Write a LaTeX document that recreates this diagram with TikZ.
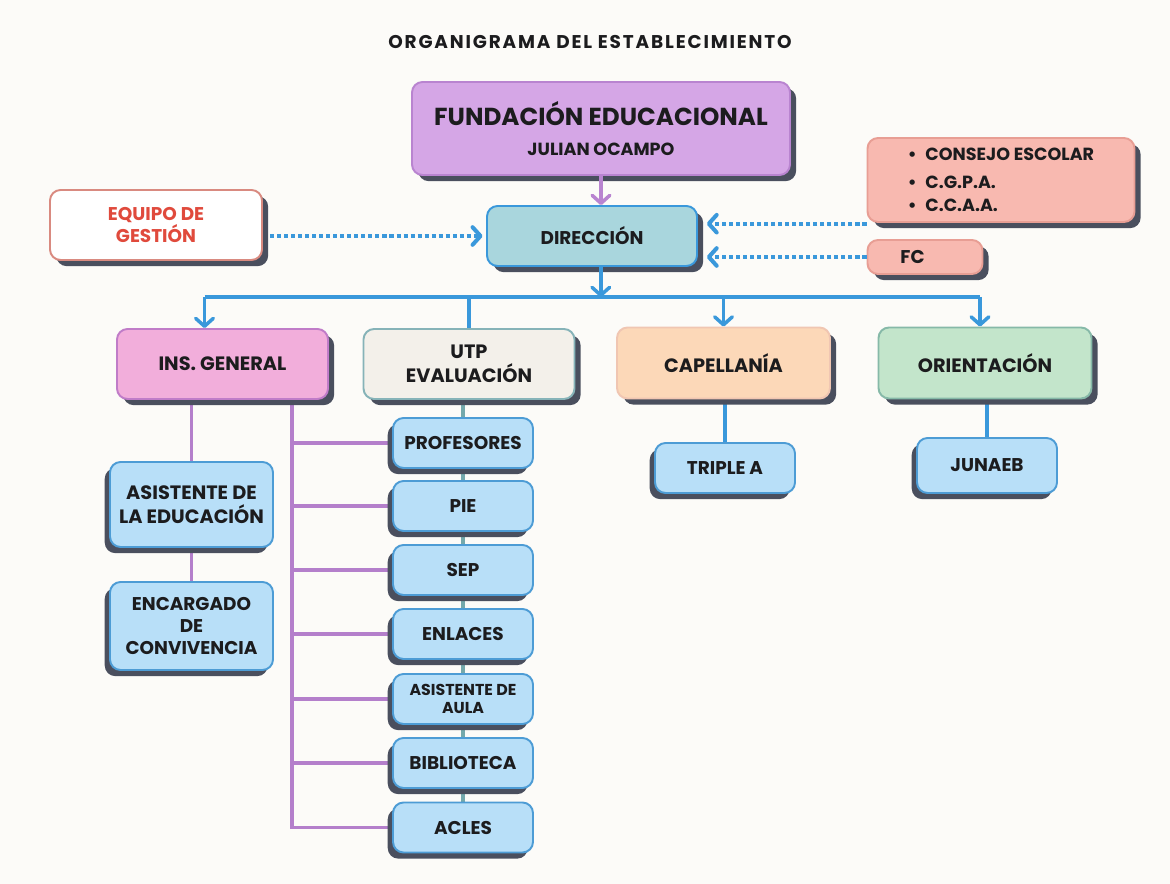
\documentclass[tikz,border=0pt]{standalone}
\usepackage{fontspec}
\setmainfont{Poppins}
\usetikzlibrary{arrows.meta, shadows, backgrounds}
\definecolor{bgclr}{HTML}{FCFBF8}
\definecolor{txtclr}{HTML}{1C1C1E}
\definecolor{shadowclr}{HTML}{4A4F5E}
\definecolor{arrclr}{HTML}{3A98DB}
\definecolor{fundfill}{HTML}{D5A6E6}
\definecolor{fundline}{HTML}{B984D0}
\definecolor{dirfill}{HTML}{A9D6DD}
\definecolor{eqline}{HTML}{D98A80}
\definecolor{eqtxt}{HTML}{E04A3C}
\definecolor{rosefill}{HTML}{F8B9B0}
\definecolor{roseline}{HTML}{E89E94}
\definecolor{insfill}{HTML}{F2AEDB}
\definecolor{insline}{HTML}{C07CC8}
\definecolor{utpfill}{HTML}{F3F0EA}
\definecolor{utpline}{HTML}{86B3B8}
\definecolor{capfill}{HTML}{FCD8B8}
\definecolor{capline}{HTML}{F0C6B2}
\definecolor{orifill}{HTML}{C3E5CB}
\definecolor{oriline}{HTML}{86B9A8}
\definecolor{skyfill}{HTML}{B8DFF8}
\definecolor{skyline}{HTML}{4D9CD5}
\definecolor{purpclr}{HTML}{B47FCB}
\definecolor{tealclr}{HTML}{74A9AC}
\tikzset{
  orgbox/.style={
    rectangle, rounded corners=6pt, line width=1.1pt,
    text=txtclr, font=\bfseries\fontsize{11}{13.5}\selectfont,
    align=center, inner sep=2pt
  },
  topbox/.style={
    orgbox, general shadow={fill=shadowclr, shadow xshift=3.5pt, shadow yshift=-3.5pt}
  },
  subbox/.style={
    orgbox, fill=skyfill, draw=skyline,
    font=\bfseries\fontsize{10.5}{12}\selectfont,
    minimum width=2.8cm, minimum height=1cm,
    general shadow={fill=shadowclr, shadow xshift=-3pt, shadow yshift=-3.5pt}
  },
  arr/.style={-{Straight Barb[length=4.5pt, width=10pt, round]}, line width=2pt, arrclr},
  dotarr/.style={-{Straight Barb[length=4.5pt, width=10pt, round]}, line width=2.3pt, arrclr,
    dash pattern=on 2.3pt off 1.7pt},
  wire/.style={line width=2pt},
}
\begin{document}
\begin{tikzpicture}

\useasboundingbox (0,0) rectangle (23.4,-17.68);

% --- Title ---
\node[text=txtclr, font=\bfseries\fontsize{10.5}{12}\selectfont\addfontfeature{LetterSpace=10}] (title) at (11.8,-0.84) {ORGANIGRAMA DEL ESTABLECIMIENTO};

% --- Top ---
\node[topbox, fill=fundfill, draw=fundline, minimum width=7.56cm, minimum height=1.86cm] (fund) at (12.02,-2.57)
  {{\fontsize{14}{17}\selectfont FUNDACIÓN EDUCACIONAL}\\[4pt]\fontsize{10}{12}\selectfont JULIAN OCAMPO};
\node[topbox, fill=dirfill, draw=arrclr, minimum width=4.2cm, minimum height=1.2cm, font=\bfseries\fontsize{10.5}{13}\selectfont] (dir) at (11.84,-4.72) {DIRECCIÓN};
\node[topbox, fill=white, draw=eqline, text=eqtxt, minimum width=4.24cm, minimum height=1.4cm, font=\bfseries\fontsize{10.5}{12.5}\selectfont] (equipo) at (3.12,-4.5) {EQUIPO DE\\GESTIÓN};
\node[topbox, fill=rosefill, draw=roseline, minimum width=5.34cm, minimum height=1.68cm, align=left,
  font=\bfseries\fontsize{10}{13}\selectfont] (consejo) at (20.02,-3.6)
  {\textbullet\enspace CONSEJO ESCOLAR\\[3pt]\textbullet\enspace C.G.P.A.\\\textbullet\enspace C.C.A.A.};
\node[topbox, fill=rosefill, draw=roseline, minimum width=2.3cm, minimum height=0.68cm, font=\bfseries\fontsize{10.5}{13}\selectfont] (fc) at (18.5,-5.14) {FC\hspace{0.5cm}};

% --- Second level ---
\node[topbox, fill=insfill, draw=insline, minimum width=4.22cm, minimum height=1.4cm] (ins) at (4.45,-7.28) {INS. GENERAL};
\node[topbox, fill=utpfill, draw=utpline, minimum width=4.22cm, minimum height=1.4cm] (utp) at (9.38,-7.28) {UTP\\EVALUACIÓN};
\node[topbox, fill=capfill, draw=capline, minimum width=4.26cm, minimum height=1.42cm] (cap) at (14.47,-7.26) {CAPELLANÍA};
\node[topbox, fill=orifill, draw=oriline, minimum width=4.26cm, minimum height=1.42cm] (orient) at (19.7,-7.26) {ORIENTACIÓN};

% --- Third level ---
\node[subbox, minimum width=3.26cm, minimum height=1.7cm, font=\bfseries\fontsize{11}{14}\selectfont] (asis) at (3.83,-10.09) {ASISTENTE DE\\LA EDUCACIÓN};
\node[subbox, minimum width=3.26cm, minimum height=1.76cm, font=\bfseries\fontsize{10.5}{12.5}\selectfont] (encargado) at (3.83,-12.52) {ENCARGADO\\DE\\CONVIVENCIA};
\node[subbox] (prof) at (9.26,-8.86) {PROFESORES};
\node[subbox] (pie) at (9.26,-10.12) {PIE};
\node[subbox] (sep) at (9.26,-11.4) {SEP};
\node[subbox] (enlaces) at (9.26,-12.68) {ENLACES};
\node[subbox, font=\bfseries\fontsize{9}{10.5}\selectfont] (aula) at (9.26,-13.98) {ASISTENTE DE\\AULA};
\node[subbox] (biblio) at (9.26,-15.26) {BIBLIOTECA};
\node[subbox] (acles) at (9.26,-16.55) {ACLES};
\node[subbox] (triple) at (14.5,-9.36) {TRIPLE A};
\node[subbox, minimum height=1.1cm] (junaeb) at (19.74,-9.31) {JUNAEB};

% --- Connectors ---
\coordinate (bus) at (11.94,-5.94);
\coordinate (trunk) at ([xshift=1.39cm]ins.south);
\draw[arr, fundline] (fund.south) -- (fund.south |- dir.north);
\draw[dotarr] ([xshift=4pt]equipo.east |- dir.west) -- ([xshift=-2pt]dir.west);
\draw[dotarr] ([yshift=7pt]dir.east -| consejo.west) -- ([xshift=5pt, yshift=7pt]dir.east);
\draw[dotarr] (fc.west) -- ([xshift=5pt]dir.east |- fc.west);
\draw[arr] ([xshift=5pt]dir.south) -- ([xshift=5pt]dir.south |- bus);

\begin{scope}[on background layer]
  \fill[bgclr] (0,0) rectangle (23.4,-17.68);
  \draw[wire, arrclr] ([xshift=-0.36cm]ins.north |- bus) -- ([xshift=-0.1cm]orient.north |- bus);
  \draw[arr] ([xshift=-0.36cm]ins.north |- bus) -- ([xshift=-0.36cm]ins.north);
  \draw[wire, arrclr] (utp.north |- bus) -- (utp.north);
  \draw[arr] (cap.north |- bus) -- (cap.north);
  \draw[arr] ([xshift=-0.1cm]orient.north |- bus) -- ([xshift=-0.1cm]orient.north);
  % Inspectoria
  \draw[wire, purpclr] (asis.north |- ins.south) -- (asis.north);
  \draw[wire, purpclr] (asis.south) -- (encargado.north);
  \draw[wire, purpclr] (trunk) -- (trunk |- acles.west) -- (acles.west);
  \draw[wire, purpclr] (trunk |- prof.west) -- (prof.west);
  \draw[wire, purpclr] (trunk |- pie.west) -- (pie.west);
  \draw[wire, purpclr] (trunk |- sep.west) -- (sep.west);
  \draw[wire, purpclr] (trunk |- enlaces.west) -- (enlaces.west);
  \draw[wire, purpclr] (trunk |- aula.west) -- (aula.west);
  \draw[wire, purpclr] (trunk |- biblio.west) -- (biblio.west);
  % UTP column
  \draw[wire, tealclr] (prof.north |- utp.south) -- (acles.north);
  % Capellania / Orientacion
  \draw[wire, arrclr] (triple.north |- cap.south) -- (triple.north);
  \draw[wire, arrclr] (junaeb.north |- orient.south) -- (junaeb.north);
\end{scope}

\end{tikzpicture}
\end{document}
